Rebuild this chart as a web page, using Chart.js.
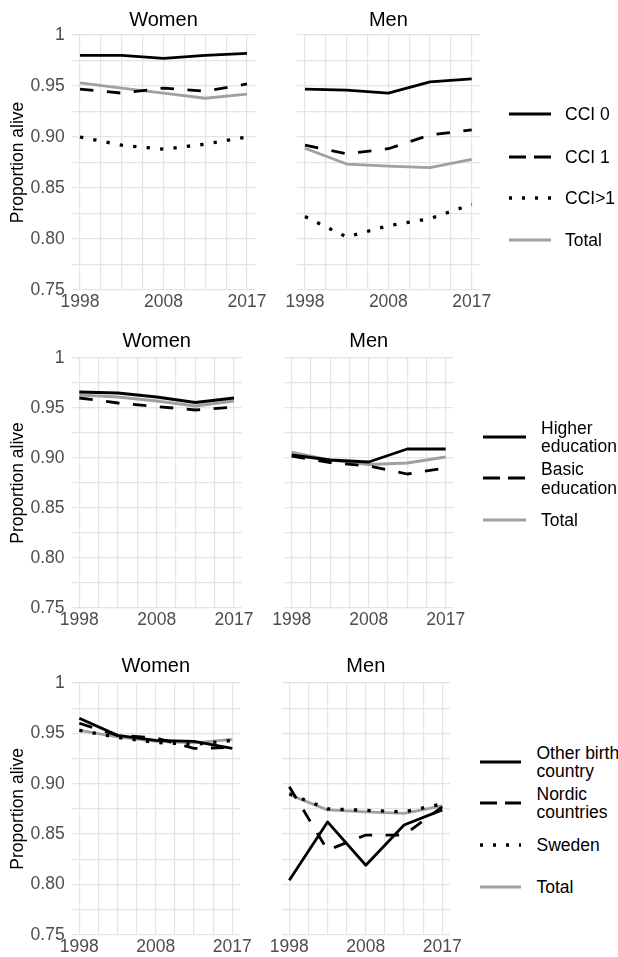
<!DOCTYPE html>
<html>
<head>
<meta charset="utf-8">
<script src="https://cdn.jsdelivr.net/npm/chart.js@4.4.0/dist/chart.umd.min.js"></script>
<style>
  body { margin: 0; width: 618px; height: 957px; overflow: hidden; background: #fff; position: relative;
         font-family: "Liberation Sans", Arial, sans-serif; }
  canvas { position: absolute; }
  .item { position: absolute; display: flex; align-items: center; white-space: nowrap;
          font-size: 17.5px; line-height: 18.4px; color: #000; }
  .item svg { flex: none; }
</style>
</head>
<body>
<canvas id="w1"></canvas><canvas id="m1"></canvas>
<canvas id="w2"></canvas><canvas id="m2"></canvas>
<canvas id="w3"></canvas><canvas id="m3"></canvas>
<div id="legends"></div>
<script>
// x axis: five periods placed on a 9-line grid
const xTickLabels = ['1998', '', '', '', '2008', '', '', '', '2017'];
const periodPos = [0, 2, 4, 6, 8];
const yGridValues = [0.75, 0.775, 0.8, 0.825, 0.85, 0.875, 0.9, 0.925, 0.95, 0.975, 1];
const yTickLabels = ['0.75', '', '0.80', '', '0.85', '', '0.90', '', '0.95', '', '1'];

// row 1 - comorbidity (CCI)
const cci0Women   = [0.980, 0.980, 0.977, 0.980, 0.982];
const cci1Women   = [0.947, 0.943, 0.948, 0.945, 0.952];
const cciGt1Women = [0.900, 0.892, 0.888, 0.893, 0.900];
const totalWomen1 = [0.953, 0.948, 0.943, 0.938, 0.942];
const cci0Men     = [0.947, 0.946, 0.943, 0.954, 0.957];
const cci1Men     = [0.892, 0.8835, 0.8885, 0.902, 0.907];
const cciGt1Men   = [0.822, 0.802, 0.813, 0.820, 0.834];
const totalMen1   = [0.889, 0.8735, 0.8715, 0.870, 0.878];

// row 2 - education
const higherWomen = [0.966, 0.965, 0.961, 0.9555, 0.960];
const basicWomen  = [0.960, 0.955, 0.9515, 0.948, 0.951];
const totalWomen2 = [0.963, 0.961, 0.957, 0.952, 0.957];
const higherMen   = [0.903, 0.898, 0.896, 0.909, 0.909];
const basicMen    = [0.902, 0.8955, 0.892, 0.884, 0.890];
const totalMen2   = [0.906, 0.898, 0.8935, 0.895, 0.901];

// row 3 - birth country
const otherWomen  = [0.965, 0.948, 0.943, 0.942, 0.935];
const nordicWomen = [0.960, 0.948, 0.9455, 0.935, 0.936];
const swedenWomen = [0.953, 0.946, 0.941, 0.939, 0.943];
const totalWomen3 = [0.953, 0.9465, 0.942, 0.9405, 0.944];
const otherMen    = [0.804, 0.862, 0.819, 0.859, 0.874];
const nordicMen   = [0.897, 0.834, 0.849, 0.849, 0.877];
const swedenMen   = [0.890, 0.875, 0.8735, 0.872, 0.880];
const totalMen3   = [0.889, 0.874, 0.872, 0.8705, 0.878];

const FONT = "'Liberation Sans', Arial, sans-serif";
Chart.defaults.font.family = FONT;

// line looks
const styles = {
  solid:  { color: '#000', width: 2.8, dash: [] },
  dashed: { color: '#000', width: 2.8, dash: [13.5, 13.5] },
  dotted: { color: '#000', width: 3.3, dash: [3.3, 10.2] },
  total:  { color: '#a0a0a0', width: 2.8, dash: [] }
};
const svgDash = { solid: '', dashed: '17 8', dotted: '3 10', total: '' };

function toPoints(values) {
  return values.map((v, i) => ({ x: periodPos[i], y: v }));
}

function drawPanel(id, p) {
  const u = (p.pos8 - p.pos0) / 8;
  const areaL = p.pos0 - 0.4 * u, areaR = p.pos8 + 0.4 * u;
  const padX = 30;
  const left = p.showY ? 0 : Math.floor(areaL - padX);
  const top = p.top - 35;
  const width = Math.ceil(areaR + padX - left);
  const height = Math.ceil(p.bottom + 26 - top);
  const cv = document.getElementById(id);
  cv.width = width; cv.height = height;
  cv.style.left = left + 'px'; cv.style.top = top + 'px';
  cv.style.width = width + 'px'; cv.style.height = height + 'px';

  const datasets = p.series.map(s => ({
    label: s.label,
    data: toPoints(s.data),
    borderColor: styles[s.style].color,
    borderWidth: styles[s.style].width,
    borderDash: styles[s.style].dash,
    borderCapStyle: 'butt',
    borderJoinStyle: 'round',
    pointRadius: 0,
    fill: false,
    tension: 0
  }));

  new Chart(cv, {
    type: 'line',
    data: { datasets: datasets },
    options: {
      responsive: false,
      animation: false,
      layout: { padding: { left: 0, top: 0, right: width - (areaR - left), bottom: height - 20 - (p.bottom - top) } },
      plugins: {
        legend: { display: false },
        tooltip: { enabled: false },
        title: {
          display: true, text: p.title, fullSize: false, color: '#000',
          font: { size: 20, weight: 'normal' },
          padding: { top: p.titleTop, bottom: 11 - p.titleTop }
        }
      },
      scales: {
        x: {
          type: 'linear', min: -0.4, max: 8.4,
          afterBuildTicks: s => { s.ticks = xTickLabels.map((l, i) => ({ value: i })); },
          afterFit: s => { s.height = 20; s.paddingLeft = 0; s.paddingRight = 0; },
          grid: { color: '#e4e4e4', lineWidth: 1.2, drawTicks: false },
          border: { display: false },
          ticks: { autoSkip: false, maxRotation: 0, padding: 2, color: '#4d4d4d',
                   font: { size: 17.5 }, callback: (v, i) => xTickLabels[i] }
        },
        y: {
          min: 0.75, max: 1,
          afterBuildTicks: s => { s.ticks = yGridValues.map(v => ({ value: v })); },
          afterFit: s => { s.width = areaL - left; s.paddingTop = 0; s.paddingBottom = 0; },
          grid: { color: '#e4e4e4', lineWidth: 1.2, drawTicks: false },
          border: { display: false },
          ticks: { display: p.showY, autoSkip: false, padding: 7, color: '#4d4d4d',
                   font: { size: 17.5 }, callback: (v, i) => yTickLabels[i] },
          title: { display: p.showY, text: 'Proportion alive', color: '#000',
                   font: { size: 17.5 }, padding: { top: 8, bottom: 0 } }
        }
      }
    }
  });
}

drawPanel('w1', { title: 'Women', showY: true, pos0: 80, pos8: 247, top: 35, bottom: 290, titleTop: 8,
  series: [
    { label: 'CCI 0', data: cci0Women, style: 'solid' },
    { label: 'CCI 1', data: cci1Women, style: 'dashed' },
    { label: 'CCI>1', data: cciGt1Women, style: 'dotted' },
    { label: 'Total', data: totalWomen1, style: 'total' }
  ] });
drawPanel('m1', { title: 'Men', showY: false, pos0: 305, pos8: 471.7, top: 35, bottom: 290, titleTop: 8,
  series: [
    { label: 'CCI 0', data: cci0Men, style: 'solid' },
    { label: 'CCI 1', data: cci1Men, style: 'dashed' },
    { label: 'CCI>1', data: cciGt1Men, style: 'dotted' },
    { label: 'Total', data: totalMen1, style: 'total' }
  ] });
drawPanel('w2', { title: 'Women', showY: true, pos0: 79.3, pos8: 234, top: 358.3, bottom: 608.3, titleTop: 6.4,
  series: [
    { label: 'Higher education', data: higherWomen, style: 'solid' },
    { label: 'Basic education', data: basicWomen, style: 'dashed' },
    { label: 'Total', data: totalWomen2, style: 'total' }
  ] });
drawPanel('m2', { title: 'Men', showY: false, pos0: 291.7, pos8: 445.7, top: 358.3, bottom: 608.3, titleTop: 6.4,
  series: [
    { label: 'Higher education', data: higherMen, style: 'solid' },
    { label: 'Basic education', data: basicMen, style: 'dashed' },
    { label: 'Total', data: totalMen2, style: 'total' }
  ] });
drawPanel('w3', { title: 'Women', showY: true, pos0: 79.3, pos8: 232.3, top: 683.3, bottom: 935, titleTop: 6.4,
  series: [
    { label: 'Other birth country', data: otherWomen, style: 'solid' },
    { label: 'Nordic countries', data: nordicWomen, style: 'dashed' },
    { label: 'Sweden', data: swedenWomen, style: 'dotted' },
    { label: 'Total', data: totalWomen3, style: 'total' }
  ] });
drawPanel('m3', { title: 'Men', showY: false, pos0: 289.3, pos8: 442.3, top: 683.3, bottom: 935, titleTop: 6.4,
  series: [
    { label: 'Other birth country', data: otherMen, style: 'solid' },
    { label: 'Nordic countries', data: nordicMen, style: 'dashed' },
    { label: 'Sweden', data: swedenMen, style: 'dotted' },
    { label: 'Total', data: totalMen3, style: 'total' }
  ] });

// legends, one per row, to the right of the Men panel
const legends = [
  { keyX: 509, keyW: 42, gap: 14, items: [
    { text: 'CCI 0', style: 'solid', y: 114.5 },
    { text: 'CCI 1', style: 'dashed', y: 156.7 },
    { text: 'CCI&gt;1', style: 'dotted', y: 198.5 },
    { text: 'Total', style: 'total', y: 240.3 } ] },
  { keyX: 483, keyW: 43, gap: 15, items: [
    { text: 'Higher<br>education', style: 'solid', y: 437 },
    { text: 'Basic<br>education', style: 'dashed', y: 478.5 },
    { text: 'Total', style: 'total', y: 520.5 } ] },
  { keyX: 480, keyW: 41, gap: 15.5, items: [
    { text: 'Other birth<br>country', style: 'solid', y: 762 },
    { text: 'Nordic<br>countries', style: 'dashed', y: 803.3 },
    { text: 'Sweden', style: 'dotted', y: 845.3 },
    { text: 'Total', style: 'total', y: 886.7 } ] }
];

const box = document.getElementById('legends');
legends.forEach(lg => {
  lg.items.forEach(it => {
    const st = styles[it.style];
    const lines = it.text.split('<br>').length;
    const h = lines * 18.4;
    const div = document.createElement('div');
    div.className = 'item';
    div.style.left = lg.keyX + 'px';
    div.style.top = (it.y - h / 2) + 'px';
    div.style.height = h + 'px';
    div.innerHTML =
      '<svg width="' + lg.keyW + '" height="8" style="margin-right:' + lg.gap + 'px">' +
      '<line x1="0" y1="4" x2="' + lg.keyW + '" y2="4" stroke="' + st.color + '" stroke-width="' +
      (it.style === 'dotted' ? 3.3 : 3) + '"' +
      (svgDash[it.style] ? ' stroke-dasharray="' + svgDash[it.style] + '"' : '') + '/></svg>' +
      '<span>' + it.text + '</span>';
    box.appendChild(div);
  });
});
</script>
</body>
</html>
